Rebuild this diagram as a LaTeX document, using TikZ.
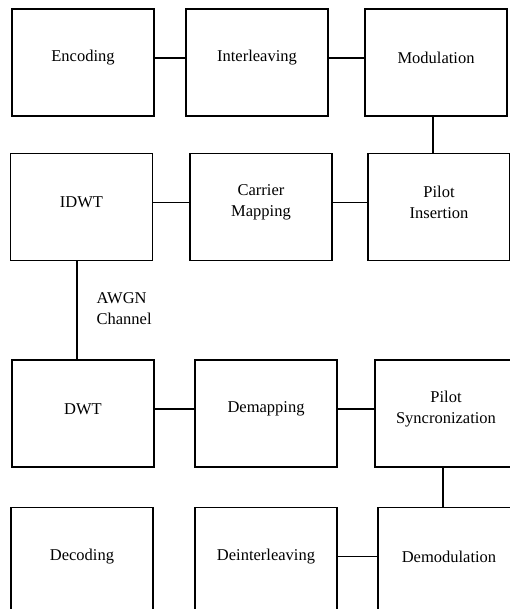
\documentclass[tikz,border=0pt]{standalone}
\usepackage{fontspec}
\setmainfont{Liberation Serif}
\begin{document}
\begin{tikzpicture}[x=1pt,y=-1pt,line width=1.2pt,blk/.style={shape=rectangle,draw=black,minimum width=142pt,minimum height=107pt,inner sep=0pt},txt/.style={align=center,inner sep=0pt,font=\fontsize{16.5}{21}\selectfont},link/.style={draw=black}]
\def\ra{62.5};
\def\rb{207};
\def\rc{413.5};
\def\rd{561};
\def\up{4.5pt};

\clip (0,0) rectangle (510,609);

% transmitter
\node[blk] (enc) at (83,\ra) {};
\node[txt] (encT) at ([yshift=\up]enc.center) {Encoding};
\node[blk] (intl) at (257,\ra) {};
\node[txt] (intlT) at ([yshift=\up]intl.center) {Interleaving};
\node[blk] (mod) at (436,\ra) {};
\node[txt] (modT) at ([yshift=\up]mod.center) {Modulation};
\draw[link] ([yshift=\up]enc.east) -- ([yshift=\up]intl.west);
\draw[link] ([yshift=\up]intl.east) -- ([yshift=\up]mod.west);

\node[blk] (idwt) at (81.5,\rb) {};
\node[txt] (idwtT) at ([yshift=\up]idwt.center) {IDWT};
\node[blk] (cmap) at (261,\rb) {};
\node[txt] (cmapT) at ([yshift=\up]cmap.center) {Carrier\\Mapping};
\node[blk] (pins) at (439,\rb) {};
\node[txt] (pinsT) at ([yshift=\up]pins.center) {Pilot\\Insertion};
\draw[link] ([xshift=-3pt]mod.south) -- ([xshift=-3pt]mod.south |- pins.north);
\draw[link] ([yshift=\up]idwt.east) -- ([yshift=\up]cmap.west);
\draw[link] ([yshift=\up]cmap.east) -- ([yshift=\up]pins.west);

% channel
\node[txt,align=left,anchor=west] (awgn) at (96,309) {AWGN\\Channel};

% receiver
\node[blk] (dwt) at (83,\rc) {};
\node[txt] (dwtT) at ([yshift=\up]dwt.center) {DWT};
\node[blk] (demap) at (266,\rc) {};
\node[txt] (demapT) at ([yshift=\up]demap.center) {Demapping};
\node[blk] (psync) at (446,\rc) {};
\node[txt] (psyncT) at ([yshift=\up]psync.center) {Pilot\\Syncronization};
\draw[link] ([xshift=-4.5pt]idwt.south) -- ([xshift=-4.5pt]idwt.south |- dwt.north);
\draw[link] ([yshift=\up]dwt.east) -- ([yshift=\up]demap.west);
\draw[link] ([yshift=\up]demap.east) -- ([yshift=\up]psync.west);

\node[blk] (dec) at (82,\rd) {};
\node[txt] (decT) at ([yshift=\up]dec.center) {Decoding};
\node[blk] (deint) at (266,\rd) {};
\node[txt] (deintT) at ([yshift=\up]deint.center) {Deinterleaving};
\node[blk] (demod) at (449,\rd) {};
\node[txt] (demodT) at ([yshift=\up]demod.center) {Demodulation};
\draw[link] ([xshift=-3pt]psync.south) -- ([xshift=-3pt]psync.south |- demod.north);
\draw[link] ([yshift=\up]deint.east) -- ([yshift=\up]demod.west);
\end{tikzpicture}
\end{document}
